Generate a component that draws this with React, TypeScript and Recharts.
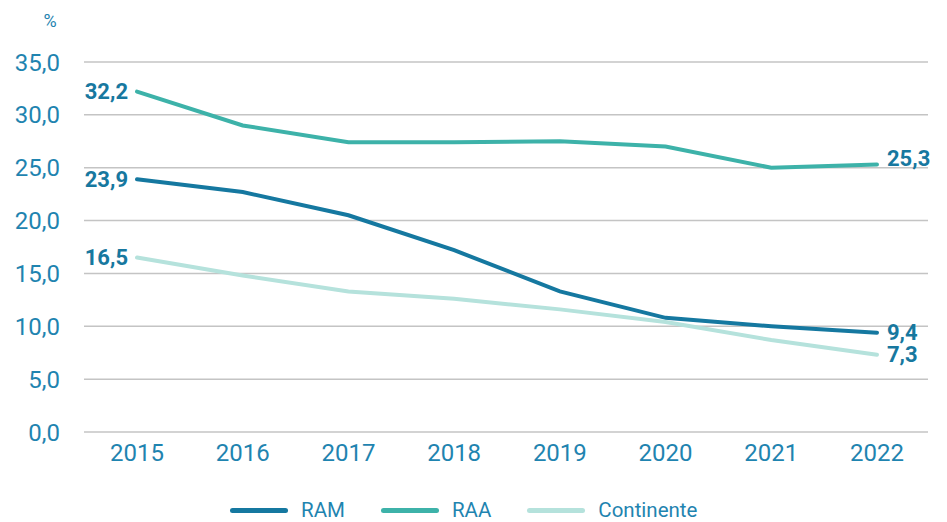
import { CartesianGrid, Legend, Line, LineChart, XAxis, YAxis } from "recharts";

const years = ["2015", "2016", "2017", "2018", "2019", "2020", "2021", "2022"];
const ram = [23.9, 22.7, 20.5, 17.2, 13.3, 10.8, 10.0, 9.4];
const raa = [32.2, 29.0, 27.4, 27.4, 27.5, 27.0, 25.0, 25.3];
const continente = [16.5, 14.8, 13.3, 12.6, 11.6, 10.4, 8.7, 7.3];
const yTicks = [0, 5, 10, 15, 20, 25, 30, 35];

const data = years.map((year, i) => ({
    year,
    RAM: ram[i],
    RAA: raa[i],
    Continente: continente[i],
}));

const series = [
    { key: "RAM", color: "#1578a0" },
    { key: "RAA", color: "#3db2a9" },
    { key: "Continente", color: "#b5e2dc" },
];

const tickColor = "#1f84b0";
const labelColor = "#17789f";

function fmt(v: number) {
    return v.toFixed(1).replace(".", ",");
}

function EndLabel(props: any) {
    const { x, y, value, index, lift } = props;
    if (index !== 0 && index !== years.length - 1) return null;
    const first = index === 0;
    return (
        <text
            x={first ? x - 9 : x + 10}
            y={y + (first ? 0 : lift)}
            textAnchor={first ? "end" : "start"}
            dominantBaseline="central"
            fill={labelColor}
            fontSize={22}
            fontWeight={700}
            fontFamily="Roboto"
        >
            {fmt(value)}
        </text>
    );
}

function LegendContent() {
    return (
        <div style={{ height: 50, position: "relative", fontFamily: "Roboto" }}>
            <div style={{ position: "absolute", left: 230, top: 26, display: "flex", alignItems: "center" }}>
                {series.map((s) => (
                    <div key={s.key} style={{ display: "flex", alignItems: "center", marginRight: 36 }}>
                        <div style={{ width: 58, height: 5, borderRadius: 3, background: s.color, marginRight: 13 }} />
                        <span style={{ color: tickColor, fontSize: 20.5 }}>{s.key}</span>
                    </div>
                ))}
            </div>
        </div>
    );
}

export default function App() {
    return (
        <div style={{ position: "absolute", left: 0, top: 0, width: 947, height: 522, background: "#fff" }}>
            <LineChart width={947} height={522} data={data} margin={{ top: 62, right: 19, left: 0, bottom: 0 }}>
                <CartesianGrid vertical={false} stroke="#c4c4c4" strokeWidth={1.5} />
                <XAxis
                    dataKey="year"
                    axisLine={false}
                    tickLine={false}
                    height={40}
                    tickMargin={6}
                    padding={{ left: 53, right: 51 }}
                    tick={{ fill: tickColor, fontSize: 24, fontFamily: "Roboto" }}
                />
                <YAxis
                    domain={[0, 35]}
                    ticks={yTicks}
                    width={84}
                    axisLine={false}
                    tickLine={false}
                    tickMargin={18}
                    tickFormatter={fmt}
                    tick={{ fill: tickColor, fontSize: 24, fontFamily: "Roboto" }}
                />
                <Legend verticalAlign="bottom" content={<LegendContent />} wrapperStyle={{ left: 0, width: 947 }} />
                {series.map((s) => (
                    <Line
                        key={s.key}
                        dataKey={s.key}
                        stroke={s.color}
                        strokeWidth={4}
                        strokeLinecap="round"
                        dot={false}
                        activeDot={false}
                        isAnimationActive={false}
                        label={<EndLabel lift={s.key === "RAA" ? -6 : 0} />}
                    />
                ))}
                <text x={50} y={20} textAnchor="middle" dominantBaseline="central" fill={tickColor} fontSize={18} fontFamily="Roboto">
                    %
                </text>
            </LineChart>
        </div>
    );
}
